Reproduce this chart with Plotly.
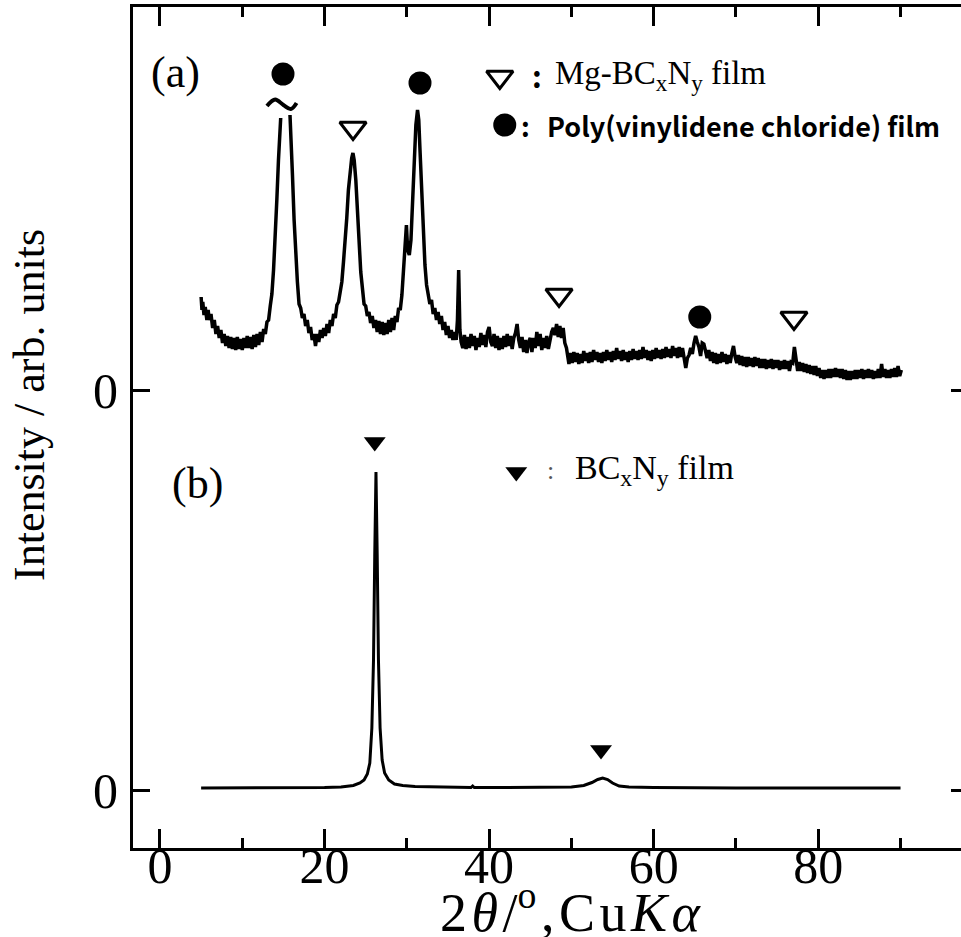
import plotly.graph_objects as go

# ---------------- data ----------------
# pattern (a): Mg-BCxNy on PVDC film (intensity above its own zero, arb.)
a_pts = [
    (5.0, 93), (5.1, 80), (5.2, 88), (5.35, 75), (5.5, 83), (5.7, 70), (5.85, 80), (6.0, 70),
    (6.2, 76), (6.4, 62), (6.6, 70), (6.8, 56), (7.0, 64), (7.2, 52), (7.4, 60), (7.6, 47),
    (7.8, 56), (8.0, 44), (8.2, 54), (8.4, 42), (8.6, 53), (8.8, 41), (9.0, 52), (9.2, 40),
    (9.4, 53), (9.6, 41), (9.8, 51), (10.0, 40), (10.2, 52), (10.4, 42), (10.6, 54), (10.8, 42),
    (11.0, 53), (11.2, 41), (11.4, 55), (11.6, 43), (11.8, 56), (12.0, 45), (12.2, 58), (12.4, 48),
    (12.6, 61), (12.8, 56), (13.0, 68), (13.2, 70), (13.4, 84), (13.6, 96), (13.8, 120), (14.0, 150),
    (14.2, 190), (14.4, 230), (14.55, 255), (14.67, 272), (None, None),
    (15.8, 275), (15.95, 250), (16.1, 215), (16.3, 170), (16.5, 135), (16.7, 108), (16.9, 86),
    (17.1, 82), (17.3, 72), (17.5, 76), (17.7, 64), (17.9, 70), (18.1, 57), (18.3, 63), (18.5, 50),
    (18.7, 56), (18.9, 44), (19.1, 56), (19.3, 48), (19.5, 60), (19.7, 52), (19.9, 62), (20.1, 54),
    (20.3, 66), (20.5, 57), (20.7, 70), (20.9, 64), (21.1, 76), (21.3, 72), (21.5, 85), (21.7, 88),
    (21.9, 100), (22.1, 108), (22.3, 128), (22.5, 148), (22.7, 172), (22.9, 200), (23.1, 220),
    (23.3, 232), (23.45, 237), (23.6, 230), (23.8, 210), (24.0, 180), (24.2, 145), (24.4, 118),
    (24.6, 102), (24.8, 86), (25.0, 84), (25.2, 74), (25.4, 78), (25.6, 67), (25.8, 74), (26.0, 62),
    (26.2, 70), (26.4, 58), (26.6, 69), (26.8, 56), (27.0, 68), (27.2, 55), (27.4, 67), (27.6, 56),
    (27.8, 70), (28.0, 58), (28.2, 72), (28.4, 60), (28.6, 74), (28.8, 68), (29.0, 82), (29.2, 80),
    (29.4, 95), (29.6, 120), (29.8, 150), (29.95, 165), (30.1, 140), (30.3, 135), (30.5, 150),
    (30.7, 185), (30.9, 230), (31.1, 265), (31.3, 280), (31.45, 270), (31.6, 240), (31.8, 195),
    (32.0, 155), (32.2, 125), (32.4, 105), (32.6, 97), (32.8, 86), (33.0, 90), (33.2, 76),
    (33.4, 82), (33.6, 70), (33.8, 78), (34.0, 66), (34.2, 74), (34.4, 60), (34.6, 68), (34.8, 55),
    (35.0, 64), (35.2, 52), (35.4, 60), (35.6, 50), (35.8, 58), (36.0, 50), (36.15, 70), (36.3, 120),
    (36.45, 60), (36.6, 48), (36.8, 42), (37.0, 55), (37.2, 41), (37.4, 53), (37.6, 42), (37.8, 56),
    (38.0, 44), (38.2, 54), (38.4, 40), (38.6, 52), (38.8, 43), (39.0, 57), (39.2, 45), (39.4, 55),
    (39.6, 43), (39.8, 58), (40.0, 63), (40.2, 48), (40.4, 44), (40.6, 56), (40.8, 42), (41.0, 54),
    (41.2, 40), (41.4, 52), (41.6, 41), (41.8, 54), (42.0, 43), (42.2, 56), (42.4, 44), (42.6, 54),
    (42.8, 41), (43.0, 52), (43.2, 57), (43.4, 66), (43.6, 50), (43.8, 42), (44.0, 53), (44.2, 38),
    (44.4, 50), (44.6, 37), (44.8, 48), (45.0, 52), (45.2, 38), (45.4, 52), (45.6, 42), (45.8, 58),
    (46.0, 44), (46.2, 56), (46.4, 40), (46.6, 52), (46.8, 42), (47.0, 54), (47.2, 41), (47.4, 52),
    (47.6, 58), (47.8, 62), (48.0, 55), (48.2, 66), (48.4, 53), (48.6, 64), (48.8, 52), (49.0, 62),
    (49.2, 47), (49.4, 42), (49.55, 30), (49.7, 26), (49.9, 37), (50.1, 27), (50.3, 38), (50.5, 28),
    (50.7, 37), (50.9, 26), (51.1, 36), (51.3, 27), (51.5, 39), (51.7, 29), (51.9, 37), (52.1, 27),
    (52.3, 38), (52.5, 28), (52.7, 40), (52.9, 30), (53.1, 38), (53.3, 28), (53.5, 37), (53.7, 27),
    (53.9, 38), (54.1, 29), (54.3, 40), (54.5, 30), (54.7, 38), (54.9, 28), (55.1, 39), (55.3, 30),
    (55.5, 42), (55.7, 31), (55.9, 39), (56.1, 29), (56.3, 40), (56.5, 30), (56.7, 38), (56.9, 28),
    (57.1, 39), (57.3, 30), (57.5, 41), (57.7, 31), (57.9, 39), (58.1, 30), (58.3, 40), (58.5, 31),
    (58.7, 43), (58.9, 32), (59.1, 40), (59.3, 30), (59.5, 39), (59.7, 29), (59.9, 40), (60.1, 31),
    (60.3, 42), (60.5, 32), (60.7, 40), (60.9, 31), (61.1, 41), (61.3, 32), (61.5, 43), (61.7, 33),
    (61.9, 41), (62.1, 32), (62.3, 44), (62.5, 34), (62.7, 42), (62.9, 32), (63.1, 43), (63.3, 33),
    (63.5, 42), (63.7, 31), (63.9, 22), (64.1, 32), (64.3, 35), (64.5, 42), (64.7, 36), (64.9, 47),
    (65.1, 54), (65.3, 48), (65.5, 43), (65.7, 34), (65.9, 47), (66.1, 46), (66.3, 40), (66.5, 32),
    (66.7, 40), (66.9, 29), (67.1, 38), (67.3, 27), (67.5, 37), (67.7, 26), (67.9, 36), (68.1, 27),
    (68.3, 38), (68.5, 28), (68.7, 36), (68.9, 26), (69.1, 35), (69.3, 27), (69.5, 37), (69.7, 44),
    (69.9, 33), (70.1, 27), (70.3, 35), (70.5, 25), (70.7, 34), (70.9, 24), (71.1, 33), (71.3, 23),
    (71.5, 33), (71.7, 24), (71.9, 32), (72.1, 23), (72.3, 33), (72.5, 24), (72.7, 32), (72.9, 22),
    (73.1, 31), (73.3, 22), (73.5, 31), (73.7, 21), (73.9, 30), (74.1, 22), (74.3, 31), (74.5, 21),
    (74.7, 30), (74.9, 22), (75.1, 30), (75.3, 20), (75.5, 29), (75.7, 21), (75.9, 30), (76.1, 21),
    (76.3, 29), (76.5, 19), (76.7, 28), (76.9, 27), (77.1, 43), (77.3, 28), (77.5, 19), (77.7, 28),
    (77.9, 19), (78.1, 27), (78.3, 18), (78.5, 26), (78.7, 17), (78.9, 25), (79.1, 16), (79.3, 24),
    (79.5, 15), (79.7, 24), (79.9, 14), (80.1, 22), (80.3, 12), (80.5, 20), (80.7, 11), (80.9, 20),
    (81.1, 12), (81.3, 21), (81.5, 12), (81.7, 21), (81.9, 13), (82.1, 22), (82.3, 13), (82.5, 21),
    (82.7, 12), (82.9, 21), (83.1, 11), (83.3, 20), (83.5, 10), (83.7, 19), (83.9, 10), (84.1, 19),
    (84.3, 11), (84.5, 20), (84.7, 11), (84.9, 20), (85.1, 12), (85.3, 21), (85.5, 11), (85.7, 20),
    (85.9, 12), (86.1, 21), (86.3, 12), (86.5, 20), (86.7, 11), (86.9, 19), (87.1, 12), (87.3, 21),
    (87.5, 12), (87.7, 26), (87.9, 13), (88.1, 21), (88.3, 12), (88.5, 20), (88.7, 12), (88.9, 21),
    (89.1, 13), (89.3, 22), (89.5, 13), (89.7, 24), (89.9, 14), (90.1, 20),
]
a_x = [p[0] for p in a_pts]
a_y = [p[1] for p in a_pts]
A_OFFSET = 400  # vertical offset of pattern (a) zero

# pattern (b): BCxNy film
b_x = [5.0, 8, 12, 16, 20, 22, 23.5, 24.3, 24.8, 25.2, 25.5, 25.75, 25.95, 26.1, 26.25, 26.4,
       26.55, 26.75, 27.0, 27.3, 27.8, 28.5, 29.5, 31, 34, 37.8, 38.0, 38.2, 42, 46, 50, 51.5,
       52.5, 53.2, 53.8, 54.4, 55.0, 55.8, 57, 60, 65, 70, 75, 80, 85, 90]
b_y = [2, 2, 2, 2, 2.5, 3, 4.5, 7, 10, 16, 27, 62, 130, 234, 318, 234, 130, 62, 30, 17, 10, 6,
       4.5, 3.5, 3, 2.5, 4, 2.5, 2.5, 2.5, 3, 4.5, 7.5, 10.5, 12, 10.5, 7, 4, 3, 2.5, 2, 2, 2, 2, 2, 2]

# peak markers
mgbcn_x = [23.46, 48.5, 77.05]        # open triangles, pattern (a)
mgbcn_y = [262, 95, 72]
pvdc_x = [14.95, 31.6, 65.6]          # filled circles, pattern (a)
pvdc_y = [316, 307, 73]
bcn_x = [26.1, 53.6]                  # filled triangles, pattern (b)
bcn_y = [348, 40]
break_x = [13.0, 14.0, 15.0, 15.9, 16.6]   # "~" break on clipped peak
break_y = [284, 290.5, 285, 281, 287]

x_ticks = [0, 20, 40, 60, 80]
x_minor = [10, 30, 50, 70, 90]

SERIF = "Liberation Serif"
GOTHIC = "Noto Sans CJK JP"
HS = "\u200a"  # hair space for the wide-set axis title

fig = go.Figure()
fig.add_trace(go.Scatter(x=a_x, y=[None if v is None else v + A_OFFSET for v in a_y],
                         mode="lines", line=dict(color="black", width=3.5), connectgaps=False,
                         showlegend=False))
fig.add_trace(go.Scatter(x=b_x, y=b_y, mode="lines", line=dict(color="black", width=3),
                         showlegend=False))
fig.add_trace(go.Scatter(x=break_x, y=[v + A_OFFSET for v in break_y], mode="lines",
                         line=dict(color="black", width=4, shape="spline"), showlegend=False))
fig.add_trace(go.Scatter(x=mgbcn_x + [41.3], y=[v + A_OFFSET for v in mgbcn_y] + [713],
                         mode="markers",
                         marker=dict(symbol="triangle-down-open", size=23, color="black",
                                     line=dict(width=3, color="black")),
                         showlegend=False))
fig.add_trace(go.Scatter(x=pvdc_x + [41.9], y=[v + A_OFFSET for v in pvdc_y] + [665],
                         mode="markers", marker=dict(symbol="circle", size=23, color="black"),
                         showlegend=False))
fig.add_trace(go.Scatter(x=bcn_x + [43.3], y=bcn_y + [318], mode="markers",
                         marker=dict(symbol="triangle-down", size=19, color="black"),
                         showlegend=False))
fig.add_trace(go.Scatter(x=[None], y=[None], yaxis="y2", showlegend=False))

xtitle = HS.join(["2", "<i>θ</i>", "/<sup>o</sup>", ",", "C", "u", "<i>K</i>", "<i>α</i>"])

ann = [
    dict(x=1.94, y=718, text="(a)", font=dict(family=SERIF, size=44)),
    dict(x=4.6, y=307, text="(b)", font=dict(family=SERIF, size=44)),
    dict(x=45.8, y=715, text=":", font=dict(family=GOTHIC, size=30, weight="bold")),
    dict(x=47.76, y=715, text="Mg-BC<sub>x</sub>N<sub>y</sub> film", xanchor="left",
         font=dict(family=SERIF, size=33)),
    dict(x=44.4, y=665, text=":", font=dict(family=GOTHIC, size=27, weight="bold")),
    dict(x=46.8, y=665, text="Poly(vinylidene chloride) film", xanchor="left",
         font=dict(family=GOTHIC, size=27, weight="bold")),
    dict(x=47.5, y=320, text=":", font=dict(family=SERIF, size=26, color="#555")),
    dict(x=50.2, y=320, text="BC<sub>x</sub>N<sub>y</sub> film", xanchor="left",
         font=dict(family=SERIF, size=34)),
    dict(x=-0.1244, y=0.5268, xref="paper", yref="paper", text="Intensity / arb. units",
         textangle=-90, font=dict(family=SERIF, size=44)),
    dict(x=50, y=-0.0725, yref="paper", text=xtitle, font=dict(family=SERIF, size=54)),
]
for a in ann:
    a.setdefault("xref", "x")
    a.setdefault("yref", "y")
    a.setdefault("xanchor", "center")
    a.setdefault("yanchor", "middle")
    a["showarrow"] = False

fig.update_layout(
    width=961, height=937,
    margin=dict(l=133, r=0, t=7, b=89),
    paper_bgcolor="white", plot_bgcolor="white",
    font=dict(family=SERIF, color="black"),
    annotations=ann,
    xaxis=dict(range=[-3.28, 97.35], tickvals=x_ticks, ticks="inside", ticklen=19, tickwidth=3,
               tickcolor="black", showline=True, linewidth=3, linecolor="black", mirror="ticks",
               showgrid=False, zeroline=False, tickfont=dict(family=SERIF, size=50),
               ticklabelstandoff=-28,
               minor=dict(tickvals=x_minor, ticks="inside", ticklen=10, tickwidth=3,
                          tickcolor="black", showgrid=False)),
    yaxis=dict(range=[-58, 783], tickvals=[0, A_OFFSET], ticktext=["0", "0"], ticks="inside",
               ticklen=17, tickwidth=3, tickcolor="black", showline=True, linewidth=3,
               linecolor="black", mirror=False, showgrid=False, zeroline=False,
               tickfont=dict(family=SERIF, size=50), ticklabelstandoff=2),
    yaxis2=dict(range=[-58, 783], overlaying="y", side="right", tickvals=[0, A_OFFSET],
                ticks="inside", ticklen=10, tickwidth=3, tickcolor="black", showticklabels=False,
                showline=False, showgrid=False, zeroline=False),
)

fig.write_html("out.html", config={"displayModeBar": False},
               post_script="document.body.style.margin='0';document.body.style.overflow='hidden';")
